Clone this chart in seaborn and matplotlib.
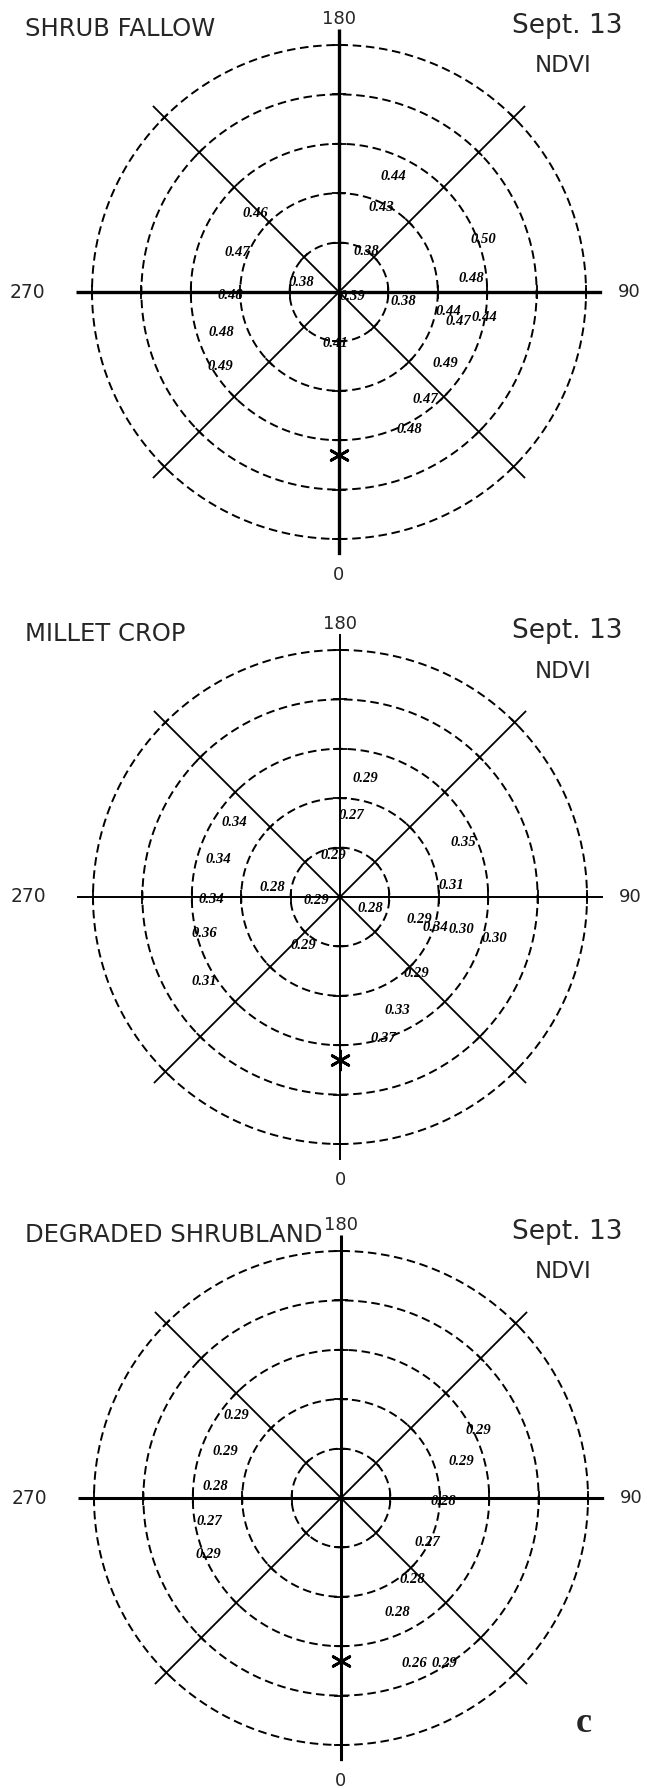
import numpy as np
import matplotlib
matplotlib.use('Agg')
import matplotlib.pyplot as plt
import seaborn as sns
import pandas as pd

# Panel names and header text
panel_names = ['SHRUB FALLOW', 'MILLET CROP', 'DEGRADED SHRUBLAND']
date_label = 'Sept. 13'
index_label = 'NDVI'
azimuth_labels = ['0', '90', '180', '270']

# View zenith rings (deg) and sun position per panel
ring_zeniths = [10, 20, 30, 40, 50]
sun_azimuth = [0, 0, 0]
sun_zenith = [33, 33, 33]

# NDVI values: relative azimuth (deg), view zenith (deg), value
fallow_az = [155, 153, 146, 110, 96, 82, 80, 76, 80, 56, 39, 27, 356, 69, 255, 227, 249, 272, 289, 302]
fallow_zen = [25.9, 19.1, 10.0, 31.0, 27.0, 13.1, 22.4, 25.0, 29.9, 25.9, 27.9, 31.2, 10.4, 2.8, 7.8, 23.2, 22.1, 22.1, 25.1, 28.3]
fallow_ndvi = [0.44, 0.43, 0.38, 0.50, 0.48, 0.38, 0.44, 0.47, 0.44, 0.49, 0.47, 0.48, 0.41, 0.39, 0.38, 0.46, 0.47, 0.48, 0.48, 0.49]

millet_az = [168, 172, 189, 114, 96, 69, 74, 72, 75, 75, 45, 27, 17, 323, 278, 262, 235, 253, 271, 285, 302]
millet_zen = [24.5, 16.7, 8.5, 27.3, 22.6, 6.5, 16.7, 20.3, 25.4, 32.3, 22.0, 25.7, 29.9, 12.3, 4.8, 13.9, 26.2, 25.8, 26.0, 28.5, 32.3]
millet_ndvi = [0.29, 0.27, 0.29, 0.35, 0.31, 0.28, 0.29, 0.34, 0.30, 0.30, 0.29, 0.33, 0.37, 0.29, 0.29, 0.28, 0.34, 0.34, 0.34, 0.36, 0.31]

degraded_az = [232, 248, 265, 280, 293, 116, 107, 88, 63, 41, 26, 24, 32]
degraded_zen = [27.0, 25.3, 25.6, 27.1, 29.2, 31.0, 25.4, 20.8, 19.7, 21.9, 25.9, 36.7, 39.4]
degraded_ndvi = [0.29, 0.29, 0.28, 0.27, 0.29, 0.29, 0.29, 0.28, 0.27, 0.28, 0.28, 0.26, 0.29]

panel_data = [
    (fallow_az, fallow_zen, fallow_ndvi),
    (millet_az, millet_zen, millet_ndvi),
    (degraded_az, degraded_zen, degraded_ndvi),
]

# Layout (pixels)
W, H = 647, 1789
PPD = 4.94            # pixels per degree of zenith
RMAX = 53.3           # length of the azimuth lines in degrees
centers = [(339, 292), (340, 897), (341, 1498)]
main_lw = [2.4, 1.4, 2.2]

sns.set_theme(style='white')
plt.rcParams['font.family'] = ['DejaVu Sans']

fig = plt.figure(figsize=(W / 100, H / 100), dpi=100)


def fig_text(x, y, s, **kw):
    fig.text(x / W, 1 - y / H, s, **kw)


def draw_tick(ax, az, zen, half_px, lw):
    h = half_px / PPD
    r = np.hypot(zen, h)
    d = np.arctan2(h, zen)
    t = np.radians(az)
    ax.plot([t - d, t + d], [r, r], color='black', lw=lw, solid_capstyle='butt')


def draw_panel(i):
    cx, cy = centers[i]
    rpx = RMAX * PPD
    ax = fig.add_axes([(cx - rpx) / W, (H - cy - rpx) / H, 2 * rpx / W, 2 * rpx / H],
                      projection='polar')
    ax.set_theta_zero_location('S')
    ax.set_theta_direction(1)
    ax.set_ylim(0, RMAX)
    ax.axis('off')

    # dashed zenith rings
    th = np.linspace(0, 2 * np.pi, 600)
    for z in ring_zeniths:
        ax.plot(th, np.full_like(th, z), color='black', lw=1.4, ls=(0, (4.4, 2.4)))

    # azimuth lines every 45 deg with ticks at each ring
    for a in range(0, 360, 45):
        lw = main_lw[i] if a % 90 == 0 else 1.3
        ax.plot([np.radians(a)] * 2, [0, RMAX], color='black', lw=lw, solid_capstyle='butt')
        for z in ring_zeniths:
            draw_tick(ax, a, z, 7 if a % 90 == 0 else 5, 1.3)

    # NDVI values
    az, zen, vals = panel_data[i]
    for a, z, v in zip(az, zen, vals):
        ax.text(np.radians(a), z, f'{v:.2f}', ha='center', va='center',
                family='Liberation Serif', fontweight='bold', fontstyle='italic',
                fontsize=10.5, color='black')

    # sun position
    sun = pd.DataFrame({'theta': np.radians([sun_azimuth[i]]), 'r': [sun_zenith[i]]})
    sns.scatterplot(data=sun, x='theta', y='r', ax=ax, marker=(6, 2, 0), s=190,
                    color='black', linewidth=2.0, legend=False)
    ax.set_ylim(0, RMAX)

    # azimuth labels and headers
    fig_text(cx, cy + 283, azimuth_labels[0], ha='center', va='center', fontsize=13)
    fig_text(cx + 290, cy, azimuth_labels[1], ha='center', va='center', fontsize=13)
    fig_text(cx, cy - 273, azimuth_labels[2], ha='center', va='center', fontsize=13)
    fig_text(cx - 312, cy, azimuth_labels[3], ha='center', va='center', fontsize=13.5)
    fig_text(25, cy - 263, panel_names[i], ha='left', va='center', fontsize=17.5)
    fig_text(622, cy - 266, date_label, ha='right', va='center', fontsize=19)
    fig_text(563, cy - 226, index_label, ha='center', va='center', fontsize=16.5)


for i in range(3):
    draw_panel(i)

fig_text(584, 1723, 'c', ha='center', va='center', fontsize=26,
         family='Liberation Serif', fontweight='bold')

fig.savefig('out.png', dpi=100)
